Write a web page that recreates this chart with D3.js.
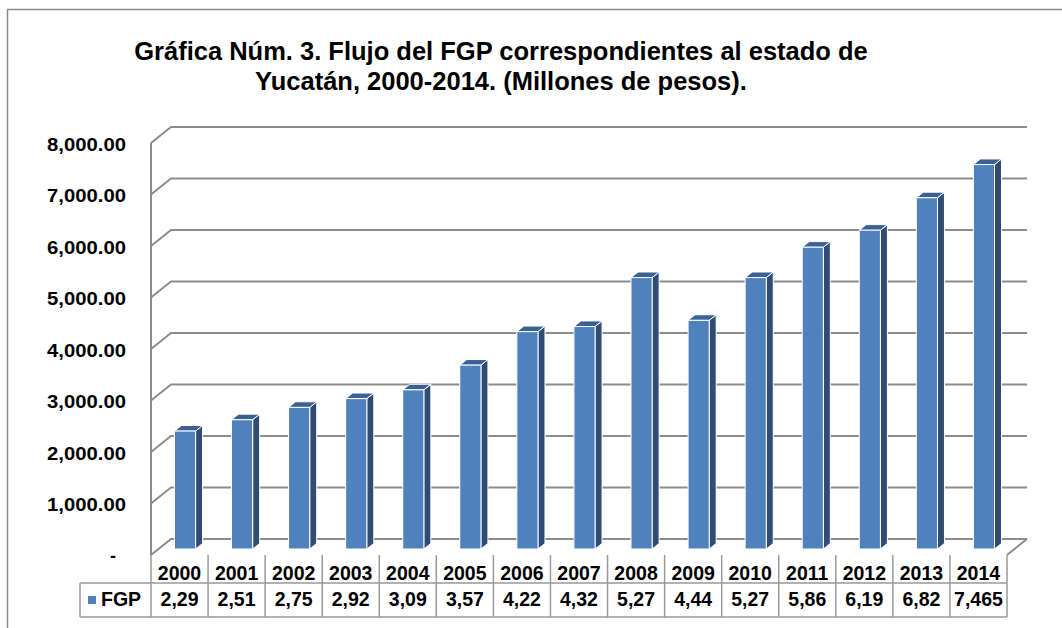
<!DOCTYPE html>
<html>
<head>
<meta charset="utf-8">
<script src="https://cdn.jsdelivr.net/npm/d3@7"></script>
<style>
  body { margin: 0; background: #fff; }
  text { font-family: "Liberation Sans", Arial, sans-serif; font-weight: bold; fill: #000; }
</style>
</head>
<body>
<svg id="main_svg" width="1062" height="628"></svg>
<script>
// data
const years = ["2000","2001","2002","2003","2004","2005","2006","2007","2008","2009","2010","2011","2012","2013","2014"];
const fgp = [2290, 2510, 2750, 2920, 3090, 3570, 4220, 4320, 5270, 4440, 5270, 5860, 6190, 6820, 7465];
const fgpLabels = ["2,29","2,51","2,75","2,92","3,09","3,57","4,22","4,32","5,27","4,44","5,27","5,86","6,19","6,82","7,465"];
const yTicks = [0, 1000, 2000, 3000, 4000, 5000, 6000, 7000, 8000];
const titleLines = ["Gráfica Núm. 3. Flujo del FGP correspondientes al estado de",
                    "Yucatán, 2000-2014. (Millones de pesos)."];
const seriesName = "FGP";

const svg = d3.select("#main_svg");
const plotLeft = 151, plotRight = 1007, plotTop = 143, floorY = 555;
const depthX = 20, depthY = -16;   // oblique offset of back wall
const gridColor = "#8c8c8c";

const x = d3.scaleBand().domain(years).range([plotLeft, plotRight]);
const y = d3.scaleLinear().domain([0, 8000]).range([floorY, plotTop]);

// outer frame
svg.append("rect").attr("x", 7.5).attr("y", 9.5).attr("width", 1100).attr("height", 700)
  .attr("fill", "none").attr("stroke", "#8a8a8a").attr("stroke-width", 1.5);

// title
svg.append("g").selectAll("text").data(titleLines).enter().append("text")
  .attr("x", 501).attr("y", (d, i) => 60 + i * 29.5)
  .attr("text-anchor", "middle").attr("font-size", 25.5)
  .text(d => d);

// back wall gridlines
const grid = svg.append("g").attr("fill", "none").attr("stroke", gridColor).attr("stroke-width", 2);
grid.selectAll("path").data(yTicks).enter().append("path")
  .attr("d", d => "M" + plotLeft + "," + y(d) + "L" + (plotLeft + depthX) + "," + (y(d) + depthY) +
                  "L" + (plotRight + depthX) + "," + (y(d) + depthY));
// left side wall front edge
grid.append("line").attr("x1", plotLeft).attr("x2", plotLeft).attr("y1", y(8000)).attr("y2", y(0));
// floor right edge
grid.append("line").attr("x1", plotRight).attr("y1", y(0)).attr("x2", plotRight + depthX).attr("y2", y(0) + depthY);

// y labels
svg.append("g").selectAll("text").data(yTicks).enter().append("text")
  .attr("x", d => d === 0 ? 113 : 126).attr("y", d => y(d) + (d === 0 ? 7 : 7.5))
  .attr("text-anchor", d => d === 0 ? "middle" : "end").attr("font-size", 18)
  .attr("textLength", d => d === 0 ? null : 79).attr("lengthAdjust", "spacingAndGlyphs")
  .text(d => d === 0 ? "-" : d3.format(",.2f")(d));

// 3d bars
const t1 = 0.375, t2 = 0.725;     // depth of bar front and back planes
const barW = x.bandwidth() * 0.37;
const bars = svg.append("g").selectAll("g").data(years.map((d, i) => ({year: d, v: fgp[i]}))).enter().append("g")
  .attr("stroke", "#fff").attr("stroke-width", 1).attr("stroke-linejoin", "round");
function pt(px, py) { return px + "," + py; }
bars.each(function(d) {
  const g = d3.select(this);
  const x0 = x(d.year) + (x.bandwidth() - barW) / 2 - 2 + depthX * t1;
  const x1 = x0 + barW;
  const yb = y(0) + depthY * t1, yt = y(d.v) + depthY * t1;
  const ddx = depthX * (t2 - t1), ddy = depthY * (t2 - t1);
  g.append("polygon").attr("fill", "#2e4c74")
    .attr("points", [pt(x1, yb), pt(x1, yt), pt(x1 + ddx, yt + ddy), pt(x1 + ddx, yb + ddy)].join(" "));
  g.append("polygon").attr("fill", "#3a6193")
    .attr("points", [pt(x0, yt), pt(x1, yt), pt(x1 + ddx, yt + ddy), pt(x0 + ddx, yt + ddy)].join(" "));
  g.append("rect").attr("fill", "#4f81bd")
    .attr("x", x0).attr("y", yt).attr("width", barW).attr("height", yb - yt);
});

// data table
const row1 = floorY, row2 = 583, row3 = 617;
const tbl = svg.append("g").attr("stroke", "#999").attr("stroke-width", 1.5).attr("fill", "none");
tbl.append("line").attr("x1", plotLeft).attr("x2", plotRight).attr("y1", row2).attr("y2", row2);
tbl.append("line").attr("x1", 80).attr("x2", plotLeft).attr("y1", row2).attr("y2", row2);
tbl.append("line").attr("x1", 80).attr("x2", plotRight).attr("y1", row3).attr("y2", row3);
tbl.append("line").attr("x1", 80).attr("x2", 80).attr("y1", row2).attr("y2", row3);
tbl.selectAll(".col").data(years.concat(["end"])).enter().append("line").attr("class", "col")
  .attr("x1", d => d === "end" ? plotRight : x(d)).attr("x2", d => d === "end" ? plotRight : x(d))
  .attr("y1", row1).attr("y2", row3);

svg.append("g").selectAll("text").data(years).enter().append("text")
  .attr("x", d => x(d) + x.bandwidth() / 2).attr("y", 580)
  .attr("text-anchor", "middle").attr("font-size", 19.5).text(d => d);
svg.append("g").selectAll("text").data(fgpLabels).enter().append("text")
  .attr("x", (d, i) => x(years[i]) + x.bandwidth() / 2).attr("y", 606)
  .attr("text-anchor", "middle").attr("font-size", 19.5).text(d => d);

// legend key
svg.append("rect").attr("x", 88).attr("y", 596).attr("width", 8).attr("height", 8).attr("fill", "#4f81bd");
svg.append("text").attr("x", 101).attr("y", 606).attr("font-size", 19.5).text(seriesName);
</script>
</body>
</html>
